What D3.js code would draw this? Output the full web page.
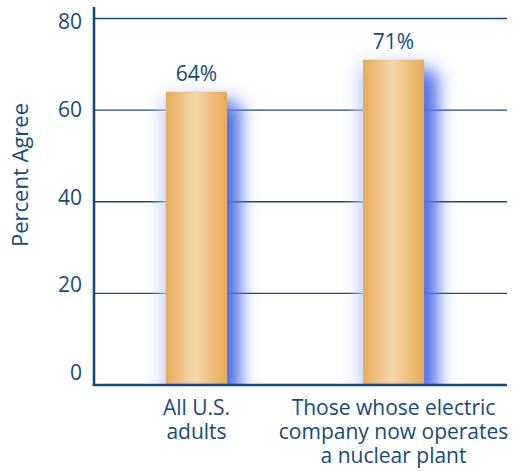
<!DOCTYPE html>
<html>
<head>
<meta charset="utf-8">
<script src="https://cdn.jsdelivr.net/npm/d3@7"></script>
<style>
  html, body { margin: 0; padding: 0; background: #fff; }
  svg { display: block; font-family: "Open Sans", "Noto Sans", sans-serif; }
</style>
</head>
<body>
<svg id="chart" width="518" height="471"></svg>
<script>
// Survey results: share agreeing, by group
const categories = ["All U.S. adults", "Those whose electric company now operates a nuclear plant"];
const categoryLines = [["All U.S.", "adults"], ["Those whose electric", "company now operates", "a nuclear plant"]];
const values = [64, 71];
const yTicks = [0, 20, 40, 60, 80];

const ink = "#174a7c";
const fontStack = "\"Open Sans\", \"Noto Sans\", sans-serif";
const svg = d3.select("#chart");

const plotLeft = 94, plotRight = 507, plotTop = 7, plotBottom = 385;

const x = d3.scaleBand()
  .domain(categories)
  .range([plotLeft, 496])
  .paddingInner(0.69)
  .paddingOuter(0.365);

const y = d3.scaleLinear().domain([0, 80]).range([plotBottom, 18.5]);
// Tick numbers sit on a slightly tighter ladder than the gridlines
const yLabel = d3.scaleLinear().domain([0, 80]).range([373, 22]);

const defs = svg.append("defs");

// Horizontal sheen across each bar
const grad = defs.append("linearGradient").attr("id", "barFill")
  .attr("x1", "0%").attr("x2", "100%").attr("y1", "0%").attr("y2", "0%");
[["0%", "#e6ab5d"], ["20%", "#ecbd7d"], ["48%", "#f4d6a9"], ["78%", "#ecbb77"], ["100%", "#e6ab5c"]]
  .forEach(([o, c]) => grad.append("stop").attr("offset", o).attr("stop-color", c));

// Soft blue shadow cast to the right of the bars
const blur = defs.append("filter").attr("id", "glow")
  .attr("x", "-100%").attr("y", "-50%").attr("width", "300%").attr("height", "200%");
blur.append("feGaussianBlur").attr("stdDeviation", 9);

defs.append("clipPath").attr("id", "plotClip")
  .append("rect").attr("x", plotLeft).attr("y", 0)
  .attr("width", plotRight - plotLeft).attr("height", plotBottom);

// Gridlines
svg.append("g")
  .selectAll("line")
  .data(yTicks.filter(d => d > 0))
  .join("line")
  .attr("x1", plotLeft).attr("x2", plotRight)
  .attr("y1", d => y(d)).attr("y2", d => y(d))
  .attr("stroke", ink).attr("stroke-width", 1.4);

// Shadows
const shadows = svg.append("g").attr("clip-path", "url(#plotClip)");
shadows.selectAll("rect.faint")
  .data(values)
  .join("rect")
  .attr("class", "faint")
  .attr("x", (d, i) => x(categories[i]) - 4)
  .attr("y", d => y(d) + 6)
  .attr("width", x.bandwidth() + 8)
  .attr("height", d => plotBottom - y(d))
  .attr("fill", "#c6cff5")
  .attr("filter", "url(#glow)");
shadows.selectAll("rect.cast")
  .data(values)
  .join("rect")
  .attr("class", "cast")
  .attr("x", (d, i) => x(categories[i]) + 15)
  .attr("y", d => y(d) + 12)
  .attr("width", x.bandwidth() - 2)
  .attr("height", d => plotBottom - y(d))
  .attr("fill", "#4a6be6")
  .attr("filter", "url(#glow)");

// Bars
svg.append("g")
  .selectAll("rect")
  .data(values)
  .join("rect")
  .attr("x", (d, i) => x(categories[i]))
  .attr("y", d => y(d))
  .attr("width", x.bandwidth())
  .attr("height", d => plotBottom - y(d))
  .attr("fill", "url(#barFill)");

// Value labels
svg.append("g")
  .selectAll("text")
  .data(values)
  .join("text")
  .attr("x", (d, i) => x(categories[i]) + x.bandwidth() / 2)
  .attr("y", d => y(d) - 11)
  .attr("text-anchor", "middle")
  .attr("font-size", 21)
  .attr("fill", ink)
  .text(d => d + "%");

// Y axis
const yAxis = svg.append("g")
  .attr("transform", `translate(${plotLeft},0)`)
  .call(d3.axisLeft(y).tickValues(yTicks).tickSize(0).tickPadding(12));
yAxis.select(".domain").remove();
yAxis.selectAll(".tick text")
  .attr("y", d => yLabel(d) - y(d))
  .attr("font-size", 21)
  .attr("fill", ink)
  .attr("font-family", fontStack);

svg.append("line")
  .attr("x1", plotLeft).attr("x2", plotLeft)
  .attr("y1", plotTop).attr("y2", plotBottom + 1)
  .attr("stroke", ink).attr("stroke-width", 2.6);

// X axis
const xAxis = svg.append("g")
  .attr("transform", `translate(0,${plotBottom})`)
  .call(d3.axisBottom(x).tickSize(0).tickFormat(() => ""));
xAxis.select(".domain").remove();
svg.append("line")
  .attr("x1", plotLeft - 1.3).attr("x2", plotRight)
  .attr("y1", plotBottom).attr("y2", plotBottom)
  .attr("stroke", ink).attr("stroke-width", 2.6);

xAxis.selectAll(".tick text")
  .each(function(d, i) {
    const t = d3.select(this)
      .attr("y", 30)
      .attr("dy", null)
      .attr("font-size", 21)
      .attr("fill", ink)
      .attr("font-family", fontStack);
    t.selectAll("tspan")
      .data(categoryLines[i])
      .join("tspan")
      .attr("x", 0)
      .attr("dy", (l, j) => j === 0 ? 0 : 24)
      .text(l => l);
  });

// Axis title
svg.append("text")
  .attr("transform", "translate(28,175) rotate(-90)")
  .attr("text-anchor", "middle")
  .attr("font-size", 22)
  .attr("fill", ink)
  .text("Percent Agree");
</script>
</body>
</html>
